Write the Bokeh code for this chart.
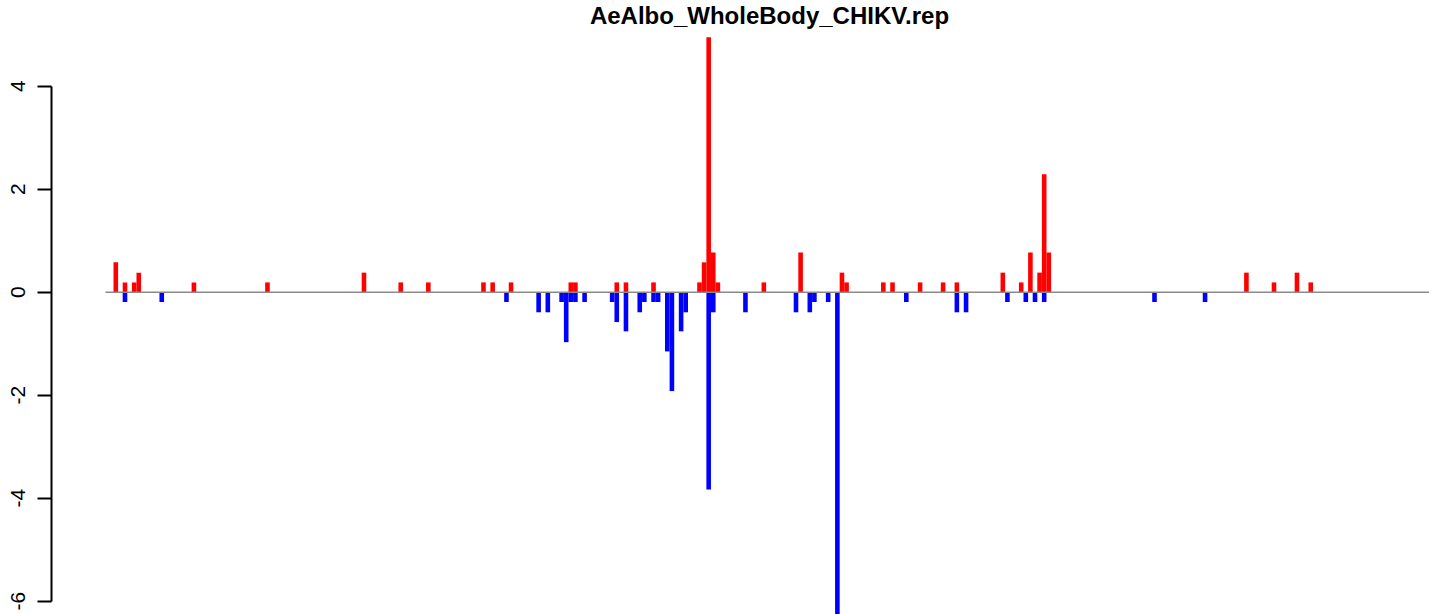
import numpy as np
from bokeh.plotting import figure
from bokeh.models import Range1d, FixedTicker, ColumnDataSource, Label
from bokeh.embed import file_html
from bokeh.resources import INLINE

# ---- data ----
title_text = "AeAlbo_WholeBody_CHIKV.rep"

# bin index of each positive (red) bar and its value
pos_bins = [0, 2, 4, 5, 17, 33, 54, 62, 68, 80, 82, 86, 99, 100, 109, 111, 117,
            127, 128, 129, 130, 131, 141, 149, 158, 159, 167, 169, 175, 180, 183,
            193, 197, 199, 201, 202, 203, 246, 252, 257, 260]
pos_vals = [0.58, 0.19, 0.19, 0.38, 0.19, 0.19, 0.38, 0.19, 0.19, 0.19, 0.19, 0.19, 0.19, 0.19, 0.19, 0.19, 0.19,
            0.19, 0.58, 4.95, 0.77, 0.19, 0.19, 0.77, 0.38, 0.19, 0.19, 0.19, 0.19, 0.19, 0.19,
            0.38, 0.19, 0.77, 0.38, 2.29, 0.77, 0.38, 0.19, 0.38, 0.19]

# bin index of each negative (blue) bar and its value
neg_bins = [2, 10, 85, 92, 94, 97, 98, 99, 100, 102, 108, 109, 111, 114, 115, 117, 118,
            120, 121, 123, 124, 129, 130, 137, 148, 151, 152, 155, 157, 172, 183, 185,
            194, 198, 200, 202, 226, 237]
neg_vals = [-0.19, -0.19, -0.19, -0.39, -0.39, -0.19, -0.97, -0.19, -0.19, -0.19, -0.19, -0.58, -0.76, -0.39, -0.19, -0.19, -0.19,
            -1.15, -1.92, -0.76, -0.39, -3.83, -0.39, -0.39, -0.39, -0.39, -0.19, -0.19, -6.5, -0.19, -0.39, -0.39,
            -0.19, -0.19, -0.19, -0.19, -0.19, -0.19]

tick_values = [-6, -4, -2, 0, 2, 4]
tick_labels = ["-6", "-4", "-2", "0", "2", "4"]

# ---- layout constants (pixels) ----
W, H = 1429, 614
FRAME_LEFT = 51          # y-axis line
BIN0_PX = 113            # left edge of bin 0
BIN_PX = 4.596           # width of one bin
ZERO_PX = 291.7          # y pixel of value 0
UNIT_PX = 51.5           # pixels per unit


def px_to_x(px):
    return (px - BIN0_PX) / BIN_PX


def py_to_y(py):
    return (ZERO_PX - py) / UNIT_PX


x_start, x_end = px_to_x(FRAME_LEFT), px_to_x(W)
y_start, y_end = py_to_y(H), py_to_y(0)

p = figure(width=W, height=H, output_backend="svg", toolbar_location=None,
           x_range=Range1d(x_start, x_end), y_range=Range1d(y_start, y_end),
           x_axis_location=None, y_axis_location="left",
           min_border_left=FRAME_LEFT, min_border_right=0, min_border_top=0, min_border_bottom=0)
p.outline_line_color = None
p.grid.grid_line_color = None
p.background_fill_color = "white"
p.border_fill_color = "white"

pos_src = ColumnDataSource(dict(x=[b + 0.5 for b in pos_bins], top=pos_vals))
neg_src = ColumnDataSource(dict(x=[b + 0.5 for b in neg_bins], top=neg_vals))
p.vbar(x="x", width=1, top="top", bottom=0, source=pos_src,
       fill_color="#FF0000", line_color=None)
p.vbar(x="x", width=1, top="top", bottom=0, source=neg_src,
       fill_color="#0000FF", line_color=None)

# zero reference line
base_start = min(pos_bins + neg_bins) - 1.75
p.segment(x0=[base_start], y0=[0], x1=[x_end], y1=[0], line_color="#8a8a8a", line_width=1.6)

# ---- y axis (R style) ----
ax = p.yaxis[0]
ax.ticker = FixedTicker(ticks=tick_values)
ax.major_label_overrides = {v: t for v, t in zip(tick_values, tick_labels)}
ax.bounds = (min(tick_values), max(tick_values))
ax.major_tick_out = 14
ax.major_tick_in = 0
ax.minor_tick_out = 0
ax.minor_tick_in = 0
ax.axis_line_width = 2
ax.major_tick_line_width = 2
ax.axis_line_color = "black"
ax.major_tick_line_color = "black"
ax.major_label_orientation = "vertical"
ax.major_label_standoff = 12
ax.major_label_text_font = "Liberation Sans"
ax.major_label_text_font_size = "21px"
ax.major_label_text_color = "black"

p.add_layout(Label(x=px_to_x(769), y=py_to_y(1), text=title_text, text_align="center",
                   text_baseline="top", text_font="Liberation Sans",
                   text_font_style="bold", text_font_size="24px", text_color="black"))

open("out.html", "w").write(file_html(p, INLINE))
